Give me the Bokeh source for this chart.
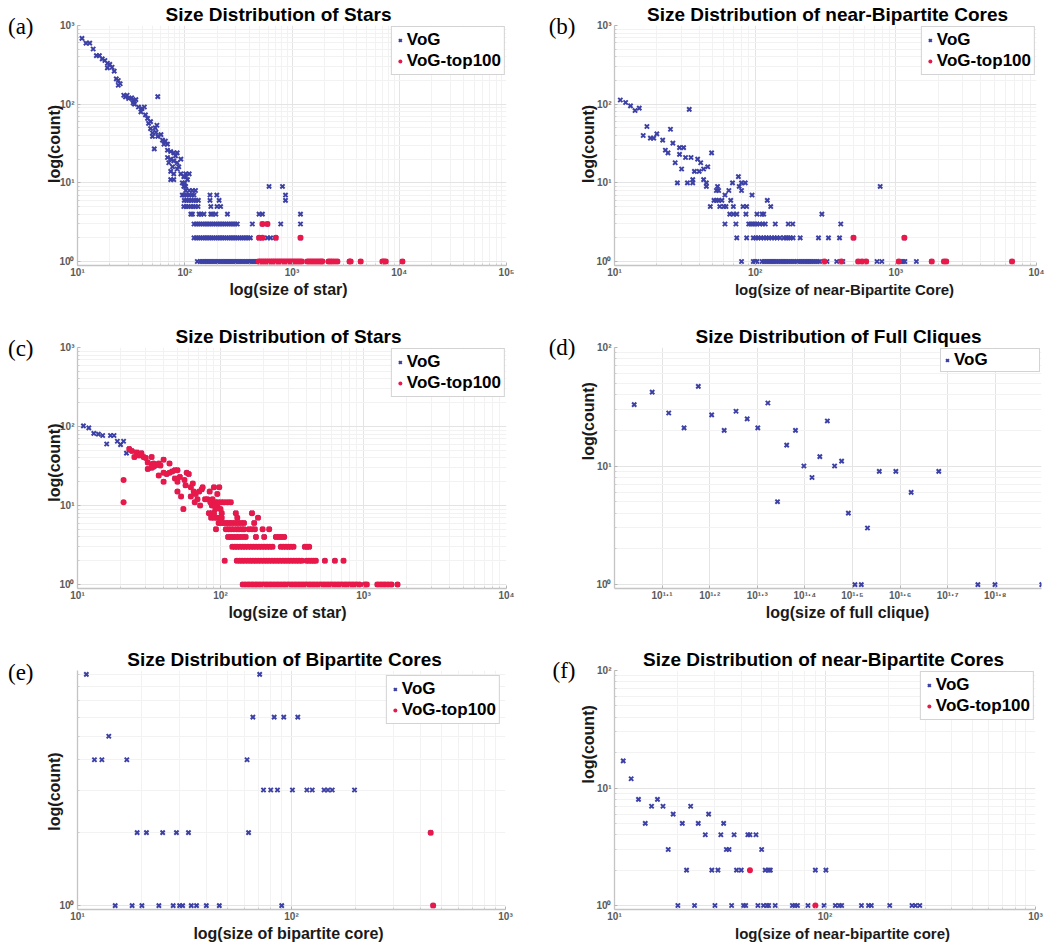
import math
import json
from bokeh.plotting import figure
from bokeh.models import (Range1d, FixedTicker, CustomJSTickFormatter, LinearAxis,
                          Legend, LegendItem)
from bokeh.layouts import row, column
from bokeh.embed import file_html
from bokeh.resources import INLINE

# ---------------------------------------------------------------- data
# (a) Size distribution of stars
a_scatter_size = [11, 12, 13, 14, 15, 16, 17, 18, 19, 20,
                  19, 21, 22, 23, 24, 25, 24, 27, 28, 29,
                  30, 32, 33, 35, 33, 34, 37, 40, 42, 39,
                  43, 45, 46, 48, 56, 48, 50, 54, 56, 60,
                  62, 66, 69, 50, 52, 64, 69, 74, 79, 82,
                  85, 69, 74, 71, 79, 85, 92, 88, 77, 74,
                  79, 85, 92, 102, 110, 102, 106, 74, 79, 55,
                  98, 95, 100, 53]
a_scatter_count = [686, 598, 598, 503, 415, 415, 376, 359, 331, 320,
                   290, 295, 263, 210, 200, 182, 174, 130, 124, 130,
                   118, 120, 112, 114, 104, 100, 92, 88, 92, 80,
                   73, 66, 57, 60, 125, 49, 43, 44, 39, 41,
                   35, 34, 31, 39, 27, 31, 26, 25, 24, 22,
                   24, 21, 20, 18, 19, 18, 20, 16, 16, 14,
                   13, 15, 13, 13, 13, 12, 11, 11, 11, 54,
                   12, 10, 10, 50]
a_row9 = [98, 102, 611, 815]
a_row8 = [102, 110, 118, 126]
a_row7 = [95, 99, 104, 110, 116, 122, 172, 199, 870]
a_row6 = [99, 104, 109, 115, 121, 127, 134, 172, 209, 870]
a_row5 = [98, 103, 108, 114, 120, 126, 133, 175, 200, 216]
a_row4 = [114, 118, 136, 141, 151, 175, 181, 195, 250, 493, 530, 1200]
a_row3 = [122, 128, 134, 140, 147, 154, 161, 169, 177, 185, 194, 203, 213, 223,
          234, 245, 257, 269, 282, 295, 309, 427, 530, 590, 785, 1200]
a_row2 = [122, 128, 134, 140, 147, 154, 161, 169, 177, 185, 194, 203, 213, 223,
          234, 245, 257, 269, 282, 295, 309, 324, 339, 355, 372, 390, 409,
          493, 530, 589, 631, 706, 1200]
a_row1_vog = [131, 139, 145, 150, 156, 162, 168, 175, 182, 190, 198, 206, 215, 224,
              233, 243, 253, 264, 275, 287, 299, 312, 325, 339, 353, 368, 384, 400,
              417, 435, 453, 472]
a_row1_top = [489, 510, 532, 555, 579, 604, 630, 657, 685, 714, 745, 777, 810, 845,
              881, 919, 958, 999, 1042, 1087, 1134, 1183, 1234, 1390, 1450, 1512,
              1577, 1645, 1716, 1790, 1867, 1920, 2190, 2280, 2380, 2510, 2650,
              3440, 3520, 4370, 6970, 7200, 7480, 10700]
a_top_row2 = [493, 530, 706, 1200]
a_top_row3 = [530, 590]

# (b) Size distribution of near-bipartite cores
b_scatter_size = [11, 12, 13, 14, 15, 34, 17, 16, 18, 19,
                  20, 22, 25, 23, 24, 26, 29, 29, 27, 31,
                  30, 32, 35, 28, 33, 36, 36, 39, 41, 37,
                  40, 43, 46, 43, 45, 49, 76, 69, 80, 85,
                  774]
b_scatter_count = [113, 105, 95, 83, 89, 86, 52, 40, 37, 37,
                   42, 35, 48, 26, 24, 32, 28, 23, 18, 28,
                   15, 21, 21, 10, 10, 10, 11, 20, 18, 14,
                   14, 15, 16, 11, 10, 24, 12, 10, 10, 10,
                   9]
b_row9 = [45, 54, 77]
b_row8 = [53, 55, 65, 80]
b_row7 = [61, 95]
b_row6 = [51, 53, 55, 58, 67, 122]
b_row5 = [48, 56, 60, 62, 70, 82, 87, 129]
b_row4 = [66, 70, 74, 86, 103, 112, 115, 298]
b_row3 = [61, 73, 90, 93, 96, 100, 103, 108, 113, 118, 139, 172, 185, 406]
b_row2 = [74, 87, 97, 101, 105, 110, 115, 120, 125, 131, 137, 143, 150, 160, 166,
          172, 178, 186, 209, 282, 332, 398, 500, 1150]
b_row1_vog = [80, 97, 100, 103, 112, 116, 120, 124, 128, 132, 136, 141, 146, 151,
              156, 161, 166, 172, 178, 184, 190, 197, 204, 211, 218, 226, 234, 242,
              250, 259, 268, 277, 287, 324, 380, 420, 590, 735, 795, 1090, 1130,
              1160, 1400]
b_row1_top = [310, 410, 540, 575, 615, 1050, 1800, 2200, 2280, 6700]
b_top_row2 = [500, 1150]

# (c) Size distribution of stars
c_blue_size = [11, 12, 13, 14, 15, 16, 17, 18, 19, 20, 21, 22]
c_blue_count = [102, 96, 82, 80, 77, 60, 77, 77, 65, 59, 65, 46]
c_red_size = [21, 21]
c_red_count = [21, 11]
c_shared_size = [23, 24, 25, 26, 27, 28, 29, 30, 31, 33,
                 34, 35, 33, 31, 33, 34, 37, 40, 42, 44,
                 46, 48, 50, 40, 44, 37, 38, 40, 48, 50,
                 52, 56, 58, 60, 50, 53, 55, 57, 62, 64,
                 65, 67, 69, 71, 74, 75, 78, 81, 85, 88,
                 92, 96, 101, 106, 112, 118, 90, 95, 98, 84,
                 87, 91, 95, 62, 66, 72]
c_shared_count = [52, 49, 41, 47, 43, 46, 41, 40, 35, 33,
                  34, 32, 41, 29, 30, 31, 24, 26, 25, 26,
                  27, 28, 28, 38, 34, 34, 32, 20, 22, 20,
                  23, 21, 26, 25, 15, 13, 9, 18, 17, 19,
                  15, 14, 12, 15, 16, 17, 12, 12, 11, 12,
                  11, 11, 11, 11, 11, 11, 17, 14, 17, 15,
                  10, 10, 10, 13, 11, 10]
c_row9 = [92, 100]
c_row8 = [83, 87, 90, 102, 128, 166]
c_row7 = [86, 90, 94, 98, 102, 131, 183]
c_row6 = [97, 101, 105, 110, 115, 120, 126, 132, 139, 146, 172]
c_row5 = [93, 109, 114, 119, 124, 130, 135, 141, 146, 158, 166, 174, 197, 219]
c_row4 = [113, 118, 123, 129, 135, 142, 150, 177, 202, 244, 256, 267, 279]
c_row3 = [121, 126, 131, 137, 143, 149, 156, 163, 170, 178, 186, 194, 203, 212,
          221, 231, 264, 275, 287, 299, 311, 324, 389, 403, 417]
c_row2 = [107, 130, 136, 142, 148, 155, 162, 169, 176, 184, 192, 201, 210, 219,
          229, 239, 250, 261, 273, 285, 298, 311, 325, 340, 355, 370, 400, 416,
          432, 448, 464, 537, 631, 725]
c_row1 = [143, 150, 157, 164, 171, 179, 187, 196, 205, 214, 224, 234, 245, 256,
          268, 280, 293, 306, 320, 335, 350, 366, 383, 400, 418, 437, 457, 478,
          500, 523, 547, 572, 598, 625, 654, 684, 715, 748, 782, 818, 855, 894,
          935, 1020, 1055, 1250, 1310, 1370, 1430, 1500, 1570, 1730]

# (d) Size distribution of full cliques
d_size = [11, 12, 13, 14, 15, 16, 17, 18, 19, 20, 21, 22, 23, 24, 25, 26, 27, 28,
          29, 30, 31, 32, 33, 34, 36, 39, 42, 48, 58, 63, 79]
d_count = [33, 42, 28, 21, 47, 27, 20, 29, 25, 21, 34, 5, 15, 20, 10, 8, 12, 24,
           10, 11, 4, 1, 1, 3, 9, 9, 6, 9, 1, 1, 1]

# (e) Size distribution of bipartite cores
e_vog_size = [11, 71, 66, 83, 92, 107, 14, 12, 13, 17, 62, 74, 80, 86, 101, 118,
              125, 142, 148, 155, 197, 19, 21, 25, 29, 33, 63, 447, 15, 18, 20,
              24, 28, 30, 31, 34, 36, 40, 46, 90, 459]
e_vog_count = [9, 9, 6, 6, 6, 6, 5, 4, 4, 4, 4, 3, 3, 3, 3, 3, 3, 3, 3, 3, 3,
               2, 2, 2, 2, 2, 2, 2, 1, 1, 1, 1, 1, 1, 1, 1, 1, 1, 1, 1, 1]
e_top_size = [447, 459]
e_top_count = [2, 1]

# (f) Size distribution of near-bipartite cores
f_vog_size = [11, 12, 13, 14, 15, 16, 17, 18, 19, 20,
              21, 22, 23, 24, 25, 27, 28, 29, 30, 31,
              32, 33, 34, 35, 36, 37, 38, 40, 41, 42,
              43, 44, 47, 48, 50, 51, 53, 54, 52, 54,
              55, 58, 70, 72, 74, 83, 90, 99, 101, 112,
              117, 120, 149, 161, 166, 203, 259, 269, 282]
f_vog_count = [17, 12, 8, 5, 7, 8, 7, 3, 6, 1,
               5, 2, 7, 1, 5, 4, 6, 2, 1, 2,
               4, 5, 3, 3, 1, 4, 2, 2, 1, 1,
               4, 4, 4, 1, 3, 1, 1, 1, 2, 2,
               2, 1, 1, 1, 1, 1, 2, 1, 2, 1,
               1, 1, 1, 1, 1, 1, 1, 1, 1]
f_top_size = [44, 90]
f_top_count = [2, 1]

titles = ["Size Distribution of Stars", "Size Distribution of near-Bipartite Cores",
          "Size Distribution of Stars", "Size Distribution of Full Cliques",
          "Size Distribution of Bipartite Cores", "Size Distribution of near-Bipartite Cores"]
xlabels = ["log(size of star)", "log(size of near-Bipartite Core)", "log(size of star)",
           "log(size of full clique)", "log(size of bipartite core)",
           "log(size of near-bipartite core)"]
ylabel = "log(count)"
letters = ["(a)", "(b)", "(c)", "(d)", "(e)", "(f)"]

# ---------------------------------------------------------------- helpers
BLUE = "#3d41a6"
RED = "#e8194a"
FONT = "Liberation Sans"


def rows(base_x, base_y, *pairs):
    xs, ys = list(base_x), list(base_y)
    for c, lst in pairs:
        xs += lst
        ys += [c] * len(lst)
    return xs, ys


def minors(e0, e1):
    return [m * 10 ** e for e in range(e0, e1) for m in range(2, 10)]


SUP = CustomJSTickFormatter(code="""
const s = {"0":"\u2070","1":"\u00b9","2":"\u00b2","3":"\u00b3","4":"\u2074","5":"\u2075",
           "6":"\u2076","7":"\u2077","8":"\u2078","9":"\u2079",".":"\u00b7","-":"\u207b"};
const e = Math.round(Math.log10(tick) * 10) / 10;
let out = "";
for (const c of String(e)) out += s[c];
return "10" + out;
""")


class Panel:
    def __init__(self, W, H, fl, fr, ft, fb, xr, yr, xt, xm, yt, ym, pad_b=4, pad_t=0):
        ppd = (fb - ft) / (math.log10(yr[1]) - math.log10(yr[0]))
        y0 = yr[0] * 10 ** (-pad_b / ppd)
        y1 = yr[1] * 10 ** (pad_t / ppd)
        self.fl, self.FT, self.FB = fl, ft - pad_t, fb + pad_b
        self.FW, self.FH = fr - fl, self.FB - self.FT
        self.lx = (math.log10(xr[0]), math.log10(xr[1]))
        self.ly = (math.log10(y0), math.log10(y1))
        p = figure(width=W, height=H, x_axis_type="log", y_axis_type="log",
                   x_range=Range1d(*xr), y_range=Range1d(y0, y1),
                   min_border_left=fl, min_border_right=W - fr,
                   min_border_top=self.FT, min_border_bottom=H - self.FB,
                   toolbar_location=None, output_backend="svg", title=None)
        p.outline_line_color = None
        p.background_fill_color = "white"
        p.border_fill_color = "white"
        xtk = FixedTicker(ticks=xt, minor_ticks=xm)
        ytk = FixedTicker(ticks=yt, minor_ticks=ym)
        p.xaxis.ticker = xtk
        p.yaxis.ticker = ytk
        p.xgrid.ticker = xtk
        p.ygrid.ticker = ytk
        for ax in (p.xaxis[0], p.yaxis[0]):
            ax.formatter = SUP
            ax.axis_line_color = "#c4c4c4"
            ax.axis_line_width = 1.3
            ax.major_tick_in = 3
            ax.major_tick_out = 0
            ax.minor_tick_in = 2
            ax.minor_tick_out = 0
            ax.major_tick_line_color = "#b4b4b4"
            ax.minor_tick_line_color = "#cccccc"
            ax.major_label_text_font = FONT
            ax.major_label_text_font_size = "10px"
            ax.major_label_text_font_style = "bold"
            ax.major_label_text_color = "#5a5a5a"
        p.xaxis.major_label_standoff = 1
        p.yaxis.major_label_standoff = 3
        for g in (p.xgrid[0], p.ygrid[0]):
            g.grid_line_color = "#e4e4e4"
            g.minor_grid_line_color = "#f2f2f2"
        self.p = p

    # pixel offset (from frame left / frame bottom) -> data value on the log scales
    def xv(self, px):
        a, b = self.lx
        return 10 ** (a + (b - a) * px / self.FW)

    def yv(self, py):
        a, b = self.ly
        return 10 ** (a + (b - a) * py / self.FH)

    def text_axis(self, side, text, pos, size, standoff, font=FONT, style="bold",
                  color="#111111", orientation="horizontal"):
        ax = LinearAxis(ticker=FixedTicker(ticks=[pos], minor_ticks=[]),
                        formatter=CustomJSTickFormatter(code="return %s;" % json.dumps(text)),
                        axis_line_color=None, major_tick_line_color=None,
                        minor_tick_line_color=None, major_tick_in=0, major_tick_out=0,
                        minor_tick_in=0, minor_tick_out=0, major_label_standoff=standoff,
                        major_label_text_font=font, major_label_text_font_size=size,
                        major_label_text_font_style=style, major_label_text_color=color,
                        major_label_orientation=orientation)
        self.p.add_layout(ax, side)

    def decorate(self, idx, letter_y, title_x, xl_x, xl_size, yl_y,
                 yl_standoff, let_standoff):
        fl, FB = self.fl, self.FB
        self.text_axis("above", titles[idx], self.xv(title_x - fl), "19px", 1,
                       color="#000000")
        self.text_axis("below", xlabels[idx], self.xv(xl_x - fl), xl_size, 0,
                       color="#1a1a1a")
        # rotated label is anchored at its (upper) end: raise the anchor by half its length
        self.text_axis("left", ylabel, self.yv(FB - yl_y + 38), "16px", yl_standoff,
                       color="#1a1a1a", orientation=math.pi / 2)
        self.text_axis("left", letters[idx], self.yv(min(FB - letter_y, self.FH - 0.5)),
                       "23px", let_standoff, font="Liberation Serif", style="normal",
                       color="#000000")

    def series(self, vx, vy, tx=None, ty=None, label_width=20, padding=3, margin=1):
        p = self.p
        rv = p.scatter(vx, vy, marker="x", size=6, line_width=2, line_color=BLUE)
        items = [LegendItem(label="VoG", renderers=[rv])]
        if tx is not None:
            rt = p.scatter(tx, ty, marker="circle", size=6, line_color=None,
                           fill_color=RED)
            items.append(LegendItem(label="VoG-top100", renderers=[rt]))
        leg = Legend(items=items, location="top_right", margin=margin, padding=padding,
                     spacing=1, glyph_width=10, glyph_height=20, label_height=20,
                     label_width=label_width, label_standoff=2,
                     label_text_font=FONT, label_text_font_style="bold",
                     label_text_font_size="17px", label_text_color="#000000",
                     border_line_color="#a8a8a8", border_line_width=1.5,
                     background_fill_color="white", background_fill_alpha=1.0)
        p.add_layout(leg)


# ---------------------------------------------------------------- (a)  row 1: y 0..300
A = Panel(520, 300, 77, 506, 23, 261, (10, 1e5), (1, 1000),
          [10, 100, 1e3, 1e4, 1e5], minors(1, 5), [1, 10, 100, 1000], minors(0, 3))
ax_, ay_ = rows(a_scatter_size, a_scatter_count, (9, a_row9), (8, a_row8), (7, a_row7),
                (6, a_row6), (5, a_row5), (4, a_row4), (3, a_row3), (2, a_row2),
                (1, a_row1_vog), (1, a_row1_top))
atx, aty = rows([], [], (1, a_row1_top), (2, a_top_row2), (3, a_top_row3))
A.series(ax_, ay_, atx, aty)
A.decorate(0, 24, 278, 288, "16px", 141, 2, 1)

# ---------------------------------------------------------------- (b)
B = Panel(531, 300, 94, 516, 23, 261, (10, 1e4), (1, 1000),
          [10, 100, 1e3, 1e4], minors(1, 4), [1, 10, 100, 1000], minors(0, 3))
bx_, by_ = rows(b_scatter_size, b_scatter_count, (9, b_row9), (8, b_row8), (7, b_row7),
                (6, b_row6), (5, b_row5), (4, b_row4), (3, b_row3), (2, b_row2),
                (1, b_row1_vog), (1, b_row1_top))
btx, bty = rows([], [], (1, b_row1_top), (2, b_top_row2))
B.series(bx_, by_, btx, bty)
B.decorate(1, 24, 307, 324, "15px", 141, 5, -7)

# ---------------------------------------------------------------- (c)  row 2: y 300..624
C = Panel(520, 324, 77, 506, 47, 284, (10, 1e4), (1, 1000),
          [10, 100, 1e3, 1e4], minors(1, 4), [1, 10, 100, 1000], minors(0, 3))
cshx, cshy = rows(c_shared_size, c_shared_count, (9, c_row9), (8, c_row8), (7, c_row7),
                  (6, c_row6), (5, c_row5), (4, c_row4), (3, c_row3), (2, c_row2),
                  (1, c_row1))
C.series(c_blue_size + cshx, c_blue_count + cshy, c_red_size + cshx, c_red_count + cshy)
C.decorate(2, 47, 288, 287, "16px", 161, 2, 1)

# ---------------------------------------------------------------- (d)
d_xt = [10 ** (1 + k / 10) for k in range(1, 9)]
D = Panel(531, 324, 94, 521, 47, 287, (10, 78.9), (1, 100),
          d_xt, [], [1, 10, 100], minors(0, 2))
D.series(d_size, d_count, label_width=84, padding=1)
D.decorate(3, 46, 318, 327, "16px", 120, 5, -7)

# ---------------------------------------------------------------- (e)  row 3: y 624..944
E = Panel(520, 320, 77, 505, 46, 283, (10, 1000), (1, 9),
          [10, 100, 1000], minors(1, 3), [1], minors(0, 1), pad_t=4)
E.series(e_vog_size, e_vog_count, e_top_size, e_top_count, margin=5)
E.decorate(4, 44, 284, 288, "16px", 164, 2, 1)

# ---------------------------------------------------------------- (f)
F = Panel(531, 320, 94, 515, 46, 283, (10, 1000), (1, 100),
          [10, 100, 1000], minors(1, 3), [1, 10, 100], minors(0, 2))
F.series(f_vog_size, f_vog_count, f_top_size, f_top_count)
F.decorate(5, 44, 303, 322, "15px", 119, 5, -7)

layout = column(row(A.p, B.p), row(C.p, D.p), row(E.p, F.p))
open("out.html", "w").write(file_html(layout, INLINE))
